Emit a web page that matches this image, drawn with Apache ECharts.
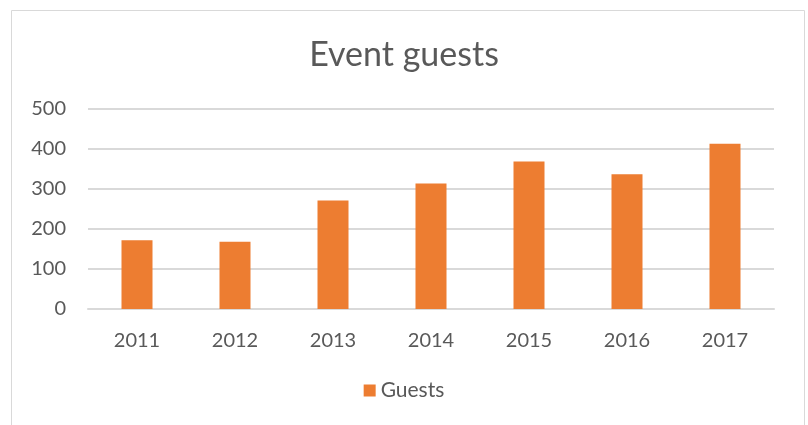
<!DOCTYPE html>
<html>
<head>
<meta charset="utf-8">
<script src="https://cdn.jsdelivr.net/npm/echarts@6/dist/echarts.min.js"></script>
<style>
  html, body { margin: 0; padding: 0; background: #fff; }
  #chart { width: 808px; height: 425px; }
</style>
</head>
<body>
<div id="chart"></div>
<script>
var years = ['2011', '2012', '2013', '2014', '2015', '2016', '2017'];
var guests = [172, 168, 271, 314, 369, 337, 413];
var yTicks = [0, 100, 200, 300, 400, 500];

var myChart = echarts.init(document.getElementById('chart'));
var textColor = '#595959';
var font = 'Lato, "Open Sans", sans-serif';

var option = {
    animation: false,
    textStyle: {fontFamily: font},
    graphic: [{
        type: 'rect',
        shape: {x: 11.5, y: 10.5, width: 793, height: 430},
        style: {fill: 'none', stroke: '#d9d9d9', lineWidth: 1}
    }],
    title: {
        text: 'Event guests',
        left: 'center',
        top: 33,
        textStyle: {fontSize: 34, fontWeight: 'normal', color: textColor, fontFamily: font}
    },
    legend: {
        bottom: 19,
        left: 'center',
        itemWidth: 12,
        itemHeight: 12,
        itemGap: 4,
        icon: 'rect',
        textStyle: {fontSize: 21, color: textColor, fontFamily: font},
        data: ['Guests']
    },
    grid: {left: 88, right: 34, top: 109, bottom: 116},
    xAxis: {
        type: 'category',
        data: years,
        axisLine: {show: true, lineStyle: {color: '#d9d9d9', width: 2}},
        axisTick: {show: false},
        axisLabel: {fontSize: 20, color: textColor, margin: 22, fontFamily: font}
    },
    yAxis: {
        type: 'value',
        min: yTicks[0],
        max: yTicks[yTicks.length - 1],
        interval: 100,
        axisLine: {show: false},
        axisTick: {show: false},
        splitLine: {lineStyle: {color: '#d9d9d9', width: 2}},
        axisLabel: {fontSize: 20, color: textColor, margin: 22, fontFamily: font}
    },
    series: [{
        name: 'Guests',
        type: 'bar',
        data: guests,
        barWidth: 31,
        itemStyle: {color: '#ED7D31'}
    }]
};

myChart.setOption(option);
</script>
</body>
</html>
